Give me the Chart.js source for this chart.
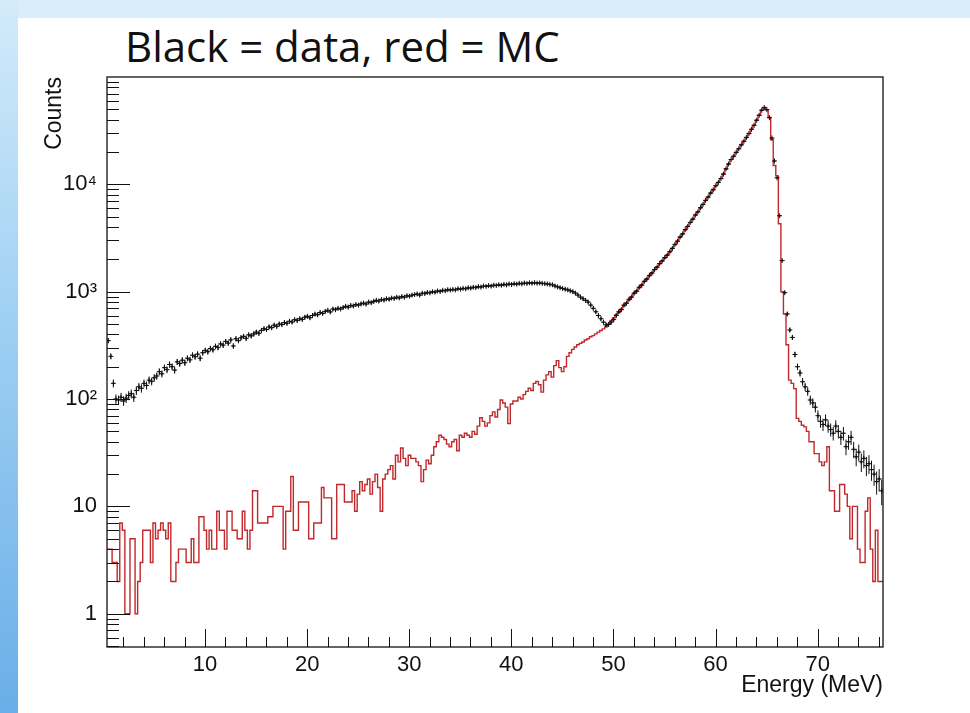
<!DOCTYPE html>
<html>
<head>
<meta charset="utf-8">
<script src="https://cdn.jsdelivr.net/npm/chart.js@4.4.0/dist/chart.umd.min.js"></script>
<style>
  body { margin: 0; width: 970px; height: 713px; position: relative; overflow: hidden; background: #d8eefa; }
  #strip { position: absolute; left: 0; top: 0; width: 18px; height: 713px;
           background: linear-gradient(to bottom, #d3ebfa 0%, #9fd0f3 45%, #6aaee8 100%); }
  #panel { position: absolute; left: 18px; top: 18px; right: 0; bottom: 0; background: #fff; }
  #title { position: absolute; left: 125px; top: 25px; font: 42px "Open Sans", sans-serif;
           line-height: 1; color: #111; white-space: nowrap; }
  #energyChart { position: absolute; left: 0; top: 0; }
</style>
</head>
<body>
<div id="strip"></div>
<div id="panel"></div>
<div id="title">Black = data, red = MC</div>
<canvas id="energyChart" width="970" height="713"></canvas>
<script>
// both histograms: 0.25 MeV bins starting at 0.4 MeV
const binStart = 0.4;
const binWidth = 0.25;

// MC (red), one row = 20 bins = 5 MeV
const mcCounts = [
  4,4,3,3,2,7,6,1,1,5,5,1,2,3,6,6,6,3,7,5,
  6,7,6,5,7,2,2,3,4,4,4,3,3,5,3,3,8,8,6,4,
  6,4,4,9,6,6,4,9,9,6,6,5,5,9,6,4,6,14,14,7,
  7,7,7,8,8,10,10,10,10,4,9,9,19,6,6,11,11,11,11,5,
  5,7,7,7,15,12,12,12,5,5,16,16,16,11,11,11,14,9,13,17,
  14,16,18,13,17,20,15,9,18,20,22,24,18,30,26,35,28,24,30,28,
  28,26,24,17,22,27,25,30,36,40,46,44,42,38,36,40,42,33,46,44,
  48,46,44,50,47,56,67,62,56,60,70,76,68,80,98,92,84,59,90,96,
  96,104,100,110,118,126,120,140,146,136,116,150,168,180,160,205,228,196,180,200,
  250,270,290,305,320,330,340,355,365,380,390,405,420,435,450,470,500,535,570,610,
  640,690,740,790,840,900,960,1020,1090,1160,1240,1320,1410,1500,1600,1700,1820,1940,2060,2200,
  2350,2540,2740,2970,3210,3470,3760,4070,4400,4760,5150,5570,6030,6520,7060,7640,8260,8940,9670,10460,
  11300,12500,13900,15500,17000,18300,19800,21500,23300,25200,27300,29800,32500,35500,39500,44000,49000,52000,49500,42000,
  26000,15000,12000,4300,1000,620,320,150,140,125,66,62,57,55,50,40,40,31,31,26,
  24,26,36,14,14,9,9,16,16,13,10,5,10,10,4,3,3,9,12,4,
  2,6,2,2
];

// data (black points)
const dataCounts = [
  350,250,140,100,98,104,96,102,108,112,104,120,130,126,140,134,150,146,158,164,
  180,172,196,188,210,200,186,222,214,230,218,240,232,256,248,262,240,270,284,276,
  296,288,310,302,326,318,344,332,356,312,364,350,372,384,368,396,388,404,420,410,
  436,452,444,470,462,488,476,500,494,516,508,530,522,548,540,560,552,578,590,572,
  600,618,610,640,628,656,670,648,690,680,700,690,712,730,718,744,736,760,750,770,
  782,768,800,790,812,830,818,846,836,860,850,872,866,888,876,900,890,916,908,930,
  940,952,930,968,960,984,976,1000,990,1016,1004,1030,1020,1044,1036,1050,1040,1066,1056,1074,
  1064,1088,1080,1100,1092,1116,1104,1130,1120,1140,1128,1150,1142,1160,1148,1170,1158,1180,1166,1186,
  1176,1196,1184,1204,1192,1210,1198,1214,1200,1206,1196,1188,1180,1170,1160,1130,1110,1090,1070,1055,
  1040,1020,1000,970,930,890,860,830,800,750,700,650,600,560,520,490,495,520,550,600,
  650,680,750,780,850,890,970,1010,1100,1150,1250,1310,1420,1490,1610,1690,1830,1930,2080,2190,
  2360,2530,2760,2950,3230,3450,3790,4050,4420,4740,5180,5540,6060,6490,7100,7610,8300,8900,9720,10400,
  11350,12450,13950,15450,17050,18250,19850,21450,23350,25150,27350,29750,32550,35450,39550,43950,49050,51900,49600,41800,
  27000,16500,11500,5100,1950,980,620,440,375,260,200,175,145,130,118,98,92,84,70,62,
  58,64,56,52,48,56,50,44,48,36,40,44,34,29,32,26,28,24,25,22,
  20,17,18,14
];

const xTickValues = [10, 20, 30, 40, 50, 60, 70];
const yTickValues = [1, 10, 100, 1000, 10000];
const yTickLabels = ["1", "10", "10²", "10³", "10⁴"];

const axisFont = "'Liberation Sans', Arial, sans-serif";
const ink = "#111";

// histogram outline: value at the left edge of each bin, plus closing edge
const mcPoints = mcCounts.map((v, i) => ({ x: binStart + i * binWidth, y: v }));
mcPoints.push({ x: binStart + mcCounts.length * binWidth, y: mcCounts[mcCounts.length - 1] });

const dataPoints = dataCounts.map((v, i) => ({ x: binStart + (i + 0.5) * binWidth, y: v }));

// sqrt(N) error bars + bin width bars for the data
const errorBars = {
  id: "errorBars",
  afterDatasetsDraw(chart) {
    const { ctx, chartArea: a, scales: { x, y } } = chart;
    ctx.save();
    ctx.beginPath();
    ctx.rect(a.left, a.top, a.right - a.left, a.bottom - a.top);
    ctx.clip();
    ctx.strokeStyle = ink;
    ctx.lineWidth = 1;
    ctx.beginPath();
    dataPoints.forEach(p => {
      const err = Math.sqrt(p.y);
      const px = x.getPixelForValue(p.x);
      const py = y.getPixelForValue(p.y);
      ctx.moveTo(px, y.getPixelForValue(Math.max(p.y - err, 0.3)));
      ctx.lineTo(px, y.getPixelForValue(p.y + err));
      ctx.moveTo(x.getPixelForValue(p.x - binWidth / 2), py);
      ctx.lineTo(x.getPixelForValue(p.x + binWidth / 2), py);
    });
    ctx.stroke();
    ctx.restore();
  }
};

// ROOT style frame with ticks drawn inside
const rootFrame = {
  id: "rootFrame",
  afterDraw(chart) {
    const { ctx, chartArea: a, scales: { x, y } } = chart;
    ctx.save();
    ctx.strokeStyle = ink;
    ctx.lineWidth = 1.3;
    ctx.strokeRect(a.left, a.top, a.right - a.left, a.bottom - a.top);
    ctx.lineWidth = 1;
    ctx.beginPath();
    for (let v = 2; v < x.max; v += 2) {
      const px = Math.round(x.getPixelForValue(v)) + 0.5;
      const len = v % 10 === 0 ? 18 : 10;
      ctx.moveTo(px, a.bottom);
      ctx.lineTo(px, a.bottom - len);
    }
    for (let e = -1; e <= 4; e++) {
      for (let k = 1; k <= 9; k++) {
        const v = k * Math.pow(10, e);
        if (v < y.min || v > y.max) continue;
        const py = Math.round(y.getPixelForValue(v)) + 0.5;
        const len = k === 1 ? 23 : 12;
        ctx.moveTo(a.left, py);
        ctx.lineTo(a.left + len, py);
      }
    }
    ctx.stroke();
    ctx.restore();
  }
};

const ctx = document.getElementById("energyChart");

new Chart(ctx, {
  type: "scatter",
  data: {
    datasets: [
      {
        label: "data",
        data: dataPoints,
        pointStyle: "cross",
        pointRadius: 2.5,
        borderColor: ink,
        backgroundColor: ink,
        borderWidth: 1
      },
      {
        label: "MC",
        type: "line",
        data: mcPoints,
        stepped: true,
        borderColor: "#c0282c",
        borderWidth: 1.4,
        pointRadius: 0,
        fill: false
      }
    ]
  },
  options: {
    responsive: false,
    animation: false,
    layout: { padding: { top: 77, right: 87, bottom: 0, left: 0 } },
    plugins: { legend: { display: false }, tooltip: { enabled: false } },
    scales: {
      x: {
        type: "linear",
        min: 0.4,
        max: 76.4,
        grid: { display: false },
        border: { display: false },
        afterFit: s => { s.height = 66; },
        afterBuildTicks: s => { s.ticks = xTickValues.map(v => ({ value: v })); },
        ticks: { font: { family: axisFont, size: 22 }, color: ink, padding: -3, maxRotation: 0, autoSkip: false },
        title: {
          display: true, text: "Energy (MeV)", align: "end", color: ink,
          font: { family: axisFont, size: 23 }, padding: { top: 0, bottom: 14 }
        }
      },
      y: {
        type: "logarithmic",
        min: 0.49,
        max: 100000,
        grid: { display: false },
        border: { display: false },
        afterFit: s => { s.width = 107; },
        afterBuildTicks: s => { s.ticks = yTickValues.map(v => ({ value: v })); },
        ticks: {
          font: { family: axisFont, size: 22 }, color: ink, padding: 2, autoSkip: false,
          callback: v => yTickLabels[yTickValues.indexOf(v)]
        },
        title: {
          display: true, text: "Counts", align: "end", color: ink,
          font: { family: axisFont, size: 23 }, padding: { top: 41, bottom: 0 }
        }
      }
    }
  },
  plugins: [errorBars, rootFrame]
});
</script>
</body>
</html>
